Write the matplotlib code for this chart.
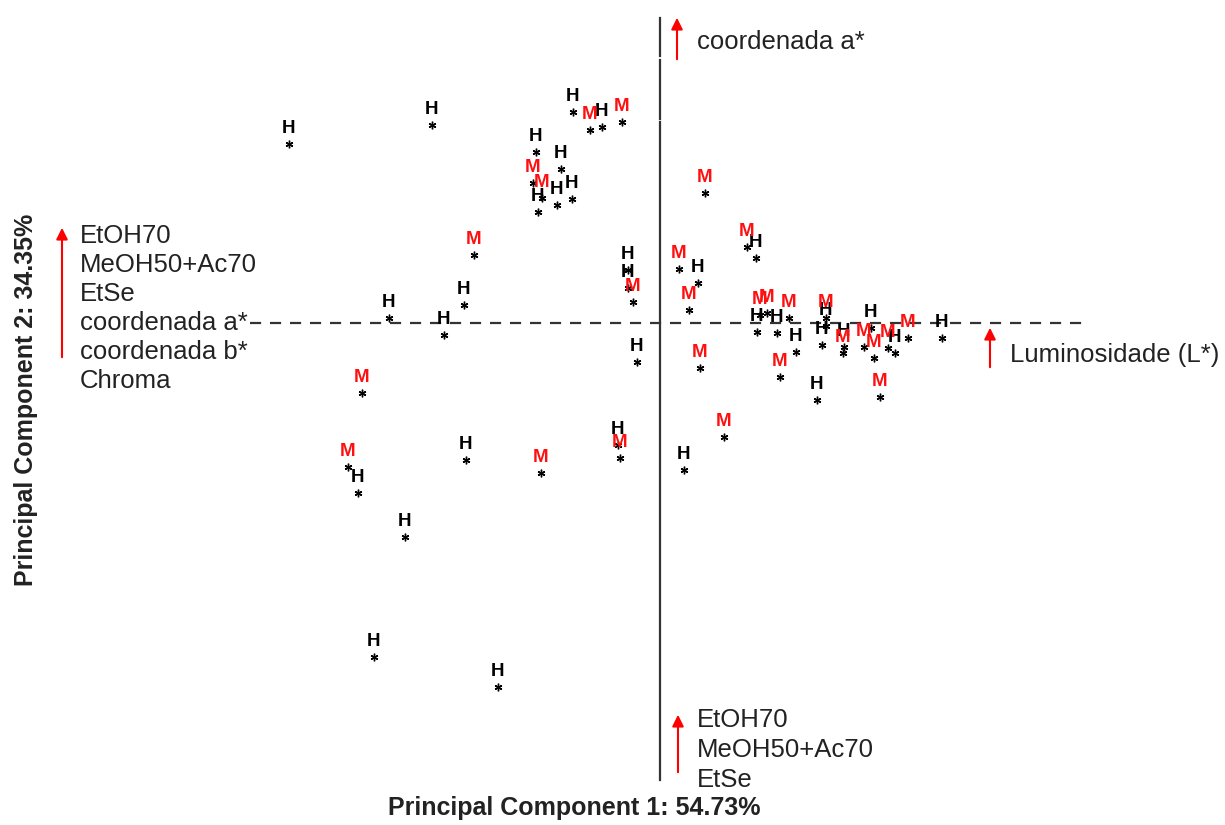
import matplotlib
matplotlib.use("Agg")
import matplotlib.pyplot as plt

plt.rcParams["font.family"] = ["Liberation Sans", "DejaVu Sans"]

# PCA scores (PC1, PC2)
h_pc1 = [-3.71, -2.28, -0.87, -0.58, -1.24, -0.99, -1.22, -1.03, -0.88, -2.71,
         -1.96, -2.16, -0.32, -0.32, -0.23, 0.38, 0.96, 0.97, 1.17, 1.36,
         1.66, 1.62, 1.84, 2.11, 2.35, 2.82, 1.57, -3.02, -1.94, -0.42,
         -2.55, 0.24, -2.86, -1.62]
h_pc2 = [1.79, 1.98, 2.11, 1.96, 1.71, 1.54, 1.11, 1.18, 1.24, 0.05,
         0.18, -0.12, 0.53, 0.35, -0.39, 0.40, 0.65, -0.09, -0.10, -0.29,
         -0.03, -0.22, -0.24, -0.05, -0.30, -0.15, -0.77, -1.70, -1.37, -1.22,
         -2.14, -1.47, -3.34, -3.64]

m_pc1 = [-0.70, -0.38, -1.27, -1.18, -1.86, -0.27, 0.45, 0.87, 0.19, 0.29,
         0.40, 1.00, 1.07, 1.29, 1.66, 1.83, 2.04, 2.14, 2.28, 2.48,
         1.20, 2.20, -2.98, -3.12, -1.19, -0.40, 0.64]
m_pc2 = [1.93, 2.01, 1.40, 1.25, 0.68, 0.21, 1.30, 0.76, 0.54, 0.13,
         -0.45, 0.08, 0.10, 0.05, 0.05, -0.30, -0.24, -0.35, -0.25, -0.15,
         -0.54, -0.74, -0.70, -1.44, -1.50, -1.35, -1.14]

# variable arrows: (tail x, tail y, tip x, tip y) and their stacked labels
arrows = [(0.17, 2.61, 0.17, 3.08),
          (-5.98, -0.37, -5.98, 0.98),
          (0.18, -4.52, 0.18, -3.89),
          (3.30, -0.47, 3.30, -0.02)]
arrow_labels = [["coordenada a*"],
                ["EtOH70", "MeOH50+Ac70", "EtSe", "coordenada a*", "coordenada b*", "Chroma"],
                ["EtOH70", "MeOH50+Ac70", "EtSe"],
                ["Luminosidade (L*)"]]
label_anchor = [(0.37, 2.81, 0.30),
                (-5.80, 0.87, 0.29),
                (0.37, -3.97, 0.30),
                (3.50, -0.32, 0.30)]

fig = plt.figure(figsize=(12.25, 8.25), dpi=100)
ax = fig.add_axes([0, 0, 1, 1])
ax.set_xlim(-6.60, 5.65)
ax.set_ylim(-5.02, 3.23)
ax.axis("off")

# reference lines (the vertical one is broken twice near the top, as in the source)
ax.plot([-4.10, 4.30], [0, 0], color="#333333", lw=1.6, ls=(0, (5, 4)))
for ya, yb in [(3.05, 2.67), (2.63, 2.04), (2.01, -4.57)]:
    ax.plot([0, 0], [ya, yb], color="#333333", lw=1.6)

# points: asterisk marker with group letter above
star = (6, 2, 0)
ax.plot(h_pc1, h_pc2, ls="none", marker=star, ms=5.5, mew=1.0, color="black")
ax.plot(m_pc1, m_pc2, ls="none", marker=star, ms=5.5, mew=1.0, color="black")
for x, y in zip(h_pc1, h_pc2):
    ax.annotate("H", (x, y), xytext=(0, 11), textcoords="offset points",
                ha="center", va="center", fontsize=13.5, fontweight="bold", color="black")
for x, y in zip(m_pc1, m_pc2):
    ax.annotate("M", (x, y), xytext=(0, 11), textcoords="offset points",
                ha="center", va="center", fontsize=13.5, fontweight="bold", color="#ff1010")

# variable arrows: red shaft and head with a small black tip
for (x0, y0, x1, y1), labs, (lx, ly, dy) in zip(arrows, arrow_labels, label_anchor):
    ax.annotate("", xy=(x1, y1), xytext=(x0, y0),
                arrowprops=dict(arrowstyle="-|>", color="red", lw=1.5, mutation_scale=17))
    ax.plot(x1, y1 - 0.08, marker="^", ms=5, color="black", mew=0)
    for i, t in enumerate(labs):
        ax.text(lx, ly - i * dy, t, ha="left", va="center", fontsize=18.5, color="#222222")

fig.text(0.469, 0.021, "Principal Component 1: 54.73%", ha="center", va="center",
         fontsize=18, fontweight="bold", color="#222222")
fig.text(0.021, 0.515, "Principal Component 2: 34.35%", ha="center", va="center",
         rotation=90, fontsize=18, fontweight="bold", color="#222222")

fig.savefig("out.png", dpi=100)
